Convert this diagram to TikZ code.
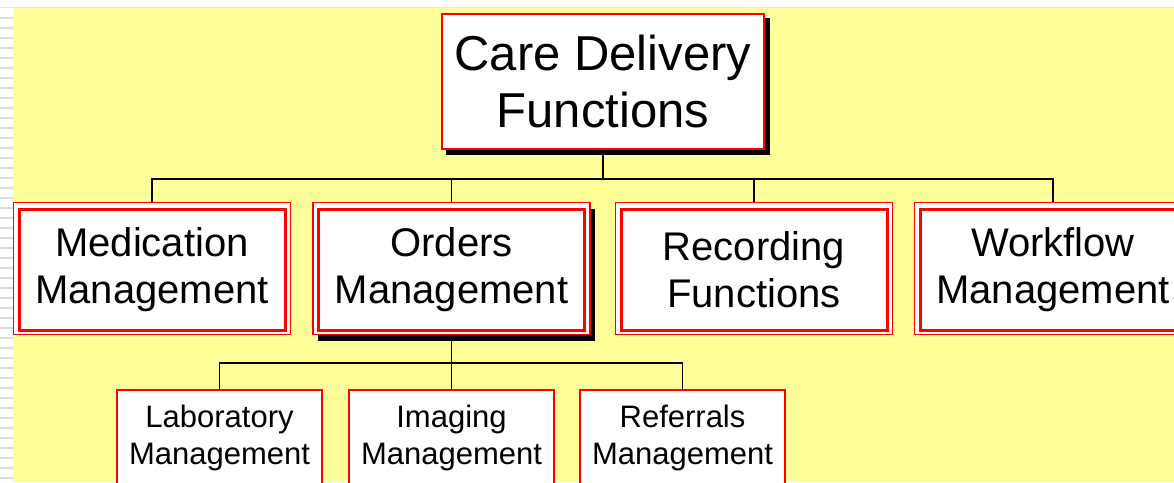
\documentclass[tikz,border=0pt]{standalone}
\usepackage{fontspec}
\setmainfont{Liberation Sans}
\usetikzlibrary{backgrounds}
\definecolor{slide}{HTML}{FFFF99}
\definecolor{stripe}{HTML}{DCDCDC}

\begin{document}
\begin{tikzpicture}[-,auto,x=1pt,y=-1pt]
\tikzstyle{root}=[rectangle,draw=red,line width=2pt,fill=white,inner sep=0pt,minimum width=322,minimum height=135,align=center,font=\fontsize{49}{57}\selectfont]
\tikzstyle{branch}=[rectangle,draw=red,line width=3pt,fill=white,inner sep=0pt,minimum width=266,minimum height=121,align=center,font=\fontsize{40}{47}\selectfont]
\tikzstyle{leaf}=[rectangle,draw=red,line width=1.5pt,fill=white,inner sep=0pt,minimum width=205,minimum height=96,align=center,font=\fontsize{31}{37}\selectfont]
\tikzstyle{outerframe}=[draw=red,line width=1.2pt,fill=white]
\tikzstyle{boxshadow}=[fill=black]
\tikzstyle{link}=[draw=black,line width=1.6pt]
\useasboundingbox (0,0) rectangle (1174,482);
\begin{scope}[on background layer]
\fill[white] (0,0) rectangle (1174,482);
\fill[slide] (13,8) rectangle (1174,482);
\draw[stripe!80,line width=1.5pt] (0,7.5) -- (1174,7.5);
\foreach \y in {18,28,...,478} \draw[stripe,line width=2pt] (0,\y) -- (13,\y);
\end{scope}
\node [root] (care) at (603,81.5) {Care Delivery\\Functions};
\node [branch] (med) at (152,270) {Medication\\Management};
\node [branch] (ord) at (451.5,270) {Orders\\Management};
\node [branch] (rec) at (754,270) {Recording\\Functions};
\node [branch] (wfl) at (1053,270) {Workflow\\Management};
\node [leaf] (lab) at (219.5,438) {Laboratory\\Management};
\node [leaf] (img) at (451.5,438) {Imaging\\Management};
\node [leaf] (ref) at (682.5,438) {Referrals\\Management};
\begin{scope}[on background layer]
\coordinate (bus1) at (603,179);
\coordinate (bus2) at (451.5,363);
\draw[link] (care.south) -- (bus1);
\foreach \n in {med,ord,rec,wfl} \draw[link] (bus1) -| (\n.north);
\draw[link] (ord.south) -- (bus2);
\foreach \n in {lab,img,ref} \draw[link] (bus2) -| (\n.north);
\fill[boxshadow] ([shift={(5,5)}]care.north west) rectangle ([shift={(5,5)}]care.south east);
\fill[boxshadow] ([shift={(1,1)}]ord.north west) rectangle ([shift={(9,9)}]ord.south east);
\foreach \n in {med,ord,rec,wfl} \draw[outerframe] ([shift={(-4,-5.5)}]\n.north west) rectangle ([shift={(4,2.5)}]\n.south east);
\end{scope}
\end{tikzpicture}
\end{document}
